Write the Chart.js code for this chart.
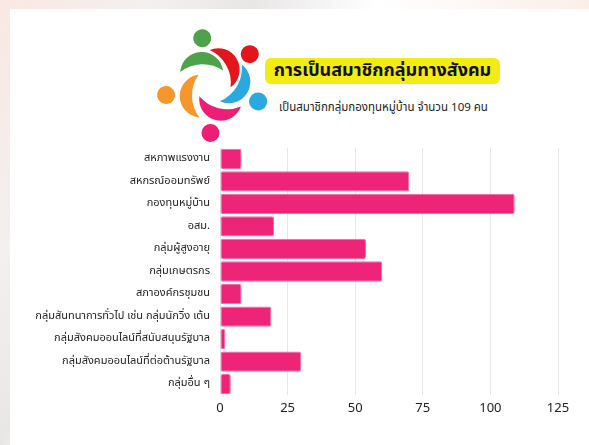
<!DOCTYPE html>
<html>
<head>
<meta charset="utf-8">
<script src="https://cdn.jsdelivr.net/npm/chart.js@4"></script>
<style>
  html, body { margin: 0; padding: 0; }
  body {
    width: 589px; height: 445px; overflow: hidden; position: relative;
    font-family: "Noto Sans Thai", "Noto Sans", sans-serif;
    background: linear-gradient(120deg, #fbe8e3 0%, #f3f0ef 18%, #e9e6e6 30%, #fff 45%, #fbeee8 70%, #f3d9d0 100%);
  }
  .card { position: absolute; left: 10px; top: 9px; width: 579px; height: 436px; background: #fff; }
  .logo { position: absolute; left: 0; top: 0; }
  .title {
    position: absolute; left: 265px; top: 58px; width: 235px; height: 26px;
    background: #f3ec12; border-radius: 6px;
    font-weight: bold; font-size: 18px; line-height: 26px; text-align: center; color: #111;
  }
  .sub { position: absolute; left: 279px; top: 99px; font-size: 11.5px; color: #222; white-space: nowrap; }
  .wrap { position: absolute; left: 0; top: 131px; width: 589px; height: 314px; }
</style>
</head>
<body>
<div class="card"></div>
<svg class="logo" width="589" height="150" id="logo"></svg>
<div class="title">การเป็นสมาชิกกลุ่มทางสังคม</div>
<div class="sub">เป็นสมาชิกกลุ่มกองทุนหมู่บ้าน จำนวน 109 คน</div>
<div class="wrap"><canvas id="chart"></canvas></div>
<script>
const categories = [
  'สหภาพแรงงาน',
  'สหกรณ์ออมทรัพย์',
  'กองทุนหมู่บ้าน',
  'อสม.',
  'กลุ่มผู้สูงอายุ',
  'กลุ่มเกษตรกร',
  'สภาองค์กรชุมชน',
  'กลุ่มสันทนาการทั่วไป เช่น กลุ่มนักวิ่ง เต้น',
  'กลุ่มสังคมออนไลน์ที่สนับสนุนรัฐบาล',
  'กลุ่มสังคมออนไลน์ที่ต่อต้านรัฐบาล',
  'กลุ่มอื่น ๆ'
];
const members = [8, 70, 109, 20, 54, 60, 8, 19, 2, 30, 4];
const xTicks = [0, 25, 50, 75, 100, 125];

// logo: five people swirling round a centre
const people = [
  { color: '#4ea24a', angle: -103 },
  { color: '#e3161b', angle: -40 },
  { color: '#2aa9e0', angle: 20 },
  { color: '#ec1f74', angle: 93 },
  { color: '#f7962b', angle: 168 }
];
const svg = document.getElementById('logo');
let html = '';
people.forEach(p => {
  const rot = p.angle + 90;
  html += '<g transform="translate(213 85) rotate(' + rot + ')">' +
    '<circle cx="0" cy="-48" r="9" fill="' + p.color + '"/>' +
    '<path d="M -29 -20 A 21.5 21.5 0 0 1 13 -12 A 36 36 0 0 0 -29 -20 Z" fill="' + p.color + '"/>' +
    '</g>';
});
svg.innerHTML = html;

new Chart(document.getElementById('chart'), {
  type: 'bar',
  data: {
    labels: categories,
    datasets: [{
      data: members,
      backgroundColor: '#ee2478',
      borderColor: '#f46ba2',
      borderWidth: 1,
      borderRadius: 2,
      borderSkipped: false,
      barPercentage: 0.9,
      categoryPercentage: 1
    }]
  },
  options: {
    indexAxis: 'y',
    responsive: true,
    maintainAspectRatio: false,
    animation: false,
    layout: { padding: { top: 8, right: 31, bottom: 22, left: 10 } },
    plugins: { legend: { display: false }, tooltip: { enabled: false } },
    scales: {
      x: {
        min: 0,
        max: 125,
        afterBuildTicks: scale => { scale.ticks = xTicks.map(v => ({ value: v })); },
        grid: { color: '#e6e6e6', drawTicks: false },
        border: { display: false },
        ticks: { color: '#222', padding: 6, font: { size: 13, family: '"Noto Sans Thai", "Noto Sans", sans-serif' } }
      },
      y: {
        afterFit: scale => { scale.width = 210; },
        grid: { display: false, drawTicks: false },
        border: { display: false },
        ticks: { color: '#222', padding: 10, autoSkip: false, font: { size: 11, family: '"Noto Sans Thai", "Noto Sans", sans-serif' } }
      }
    }
  }
});
</script>
</body>
</html>
